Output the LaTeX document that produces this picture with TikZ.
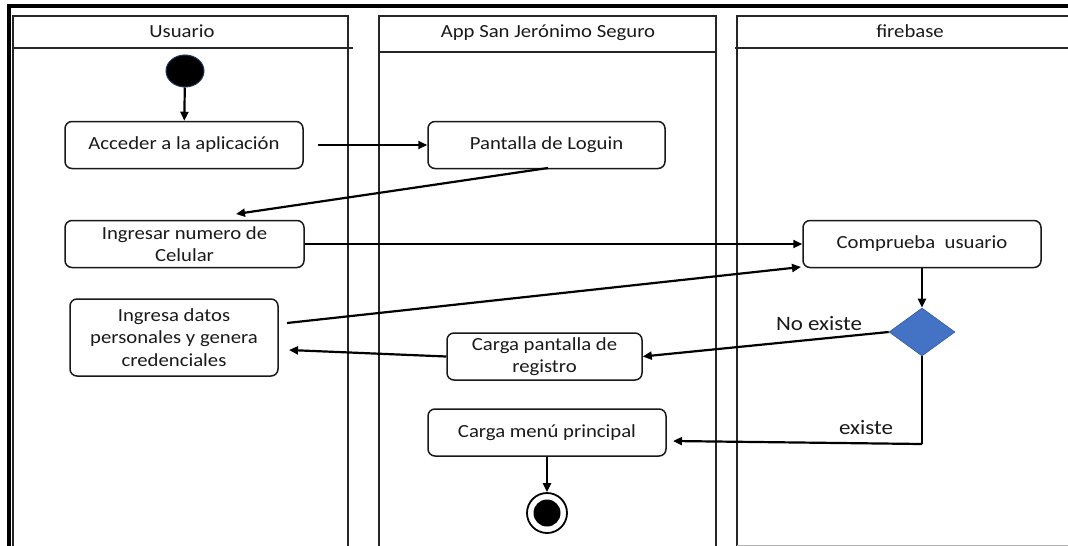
\documentclass[tikz,border=0pt]{standalone}
\usepackage{fontspec}
\setmainfont{Carlito}[FakeStretch=1.12]
\usetikzlibrary{arrows.meta,shapes.geometric}
\definecolor{txt}{HTML}{1A1A1A}
\definecolor{dblue}{HTML}{4472C4}
\begin{document}
\begin{tikzpicture}[x=1pt,y=-1pt,
  lane/.style={line width=1.5pt,draw=black!85},
  act/.style={draw=black!90,line width=1.5pt,rounded corners=7,align=center,
    text=txt,inner sep=2,font=\fontsize{18.5}{22.5}\selectfont},
  hdr/.style={text=txt,font=\fontsize{18.5}{22.5}\selectfont},
  lbl/.style={text=txt,font=\fontsize{20.5}{24}\selectfont},
  flow/.style={line width=2.2pt,-{Triangle[length=9pt,width=8pt]}}]
\useasboundingbox (0,0) rectangle (1068,546);
\fill[white] (0,0) rectangle (1068,546);
% outer border
\draw[line width=4pt,black] (9,546) -- (9,5.5) -- (1068,5.5);
% lanes
\draw[lane] (13,546) -- (13,16) -- (348,16) -- (348,546);
\draw[lane] (13,48) -- (353,48);
\draw[lane] (379,546) -- (379,16) -- (716,16) -- (716,546);
\draw[lane] (379,52) -- (716,52);
\draw[lane] (737,546) -- (737,16) -- (1068,16);
\draw[lane] (735,48) -- (1068,48);
\draw[line width=0.8pt,black!30] (737,545) -- (1068,545);
\node[hdr] (h1) at (182,31) {Usuario};
\node[hdr] (h2) at (548,33) {App San Jerónimo Seguro};
\node[hdr] (h3) at (910,31) {firebase};
% nodes
\node[ellipse,fill=black,draw={rgb,255:red,31;green,56;blue,100},line width=1pt,
  minimum width=38,minimum height=32,inner sep=0] (start) at (185,71) {};
\node[act,minimum width=238,minimum height=47] (b1) at (184,145) {Acceder a la aplicación};
\node[act,minimum width=237,minimum height=47] (b2) at (546.5,145) {Pantalla de Loguin};
\node[act,minimum width=239,minimum height=47] (b3) at (184.5,244) {Ingresar numero de\\Celular};
\node[act,minimum width=238,minimum height=47] (b4) at (922,244) {Comprueba\ \ usuario};
\node[act,minimum width=208,minimum height=77] (b5) at (174,337.5) {Ingresa datos\\personales y genera\\credenciales};
\node[act,minimum width=195,minimum height=47] (b6) at (544.5,356.5) {Carga pantalla de\\registro};
\node[act,minimum width=238,minimum height=47] (b7) at (547,432.5) {Carga menú principal};
\node[diamond,fill=dblue,draw=dblue!80!black,line width=0.6pt,
  minimum width=66,minimum height=48,inner sep=0] (d) at (922,332) {};
\node[circle,draw=black,fill=white,line width=1.8pt,minimum size=40,inner sep=0] (end) at (547,513) {};
\node[circle,fill=black,minimum size=27,inner sep=0] (endin) at (547,513) {};
% coordinates
\coordinate (a1) at (318,145);
\coordinate (p2) at (548,168);
\coordinate (t3) at (236,214);
\coordinate (s5) at (287,323);
\coordinate (t4) at (801,267);
\coordinate (t5) at (289,350);
\coordinate (dc) at (922,444);
\coordinate (t7) at (673,441);
% connectors
\draw[flow] (start) -- (b1);
\draw[flow] (a1) -- (b2);
\draw[flow] (p2) -- (t3);
\draw[flow] (b3) -- (b4);
\draw[flow] (s5) -- (t4);
\draw[flow] (b4) -- (d);
\draw[flow] (d.west) -- (b6.east);
\draw[flow] (b6.west) -- (t5);
\draw[line width=2.2pt] (d.south) -- (dc);
\draw[flow] (dc) -- (t7);
\draw[flow] (b7) -- (end);
% labels
\node[lbl] (l1) at (819,324) {No existe};
\node[lbl] (l2) at (866,428) {existe};
\end{tikzpicture}
\end{document}
